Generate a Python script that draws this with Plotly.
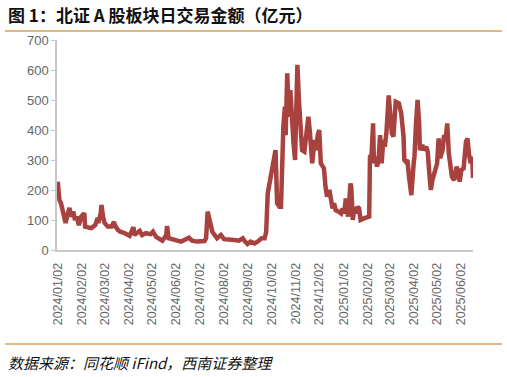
import plotly.graph_objects as go

dates = [
    "2024-01-02","2024-01-04","2024-01-06","2024-01-08","2024-01-12","2024-01-15","2024-01-17","2024-01-19",
    "2024-01-22","2024-01-24","2024-01-26","2024-01-29","2024-01-30","2024-02-01","2024-02-05","2024-02-06",
    "2024-02-14","2024-02-19","2024-02-22","2024-02-23","2024-02-26","2024-02-27","2024-02-29","2024-03-02",
    "2024-03-06","2024-03-11","2024-03-14","2024-03-15","2024-03-19","2024-03-22","2024-03-28","2024-04-03",
    "2024-04-08","2024-04-09","2024-04-12","2024-04-16","2024-04-19","2024-04-24","2024-04-30","2024-05-03",
    "2024-05-07","2024-05-11","2024-05-15",
    "2024-05-20","2024-05-21","2024-05-23","2024-05-28","2024-06-04","2024-06-08","2024-06-14","2024-06-18",
    "2024-06-22","2024-06-28","2024-07-08","2024-07-10","2024-07-12","2024-07-15","2024-07-18","2024-07-24",
    "2024-07-29","2024-08-02","2024-08-08","2024-08-15","2024-08-21","2024-08-26","2024-08-29","2024-09-01",
    "2024-09-05","2024-09-10","2024-09-14","2024-09-19","2024-09-23","2024-09-25",
    "2024-09-27","2024-09-29","2024-10-01","2024-10-03","2024-10-05","2024-10-07","2024-10-09","2024-10-12",
    "2024-10-14","2024-10-15","2024-10-17","2024-10-19","2024-10-20","2024-10-22","2024-10-24","2024-10-26",
    "2024-10-28","2024-10-30","2024-11-01","2024-11-03","2024-11-04","2024-11-06","2024-11-08","2024-11-10",
    "2024-11-13","2024-11-15","2024-11-16","2024-11-18","2024-11-20","2024-11-22","2024-11-23","2024-11-26",
    "2024-11-28","2024-11-30","2024-12-02","2024-12-04","2024-12-06","2024-12-08","2024-12-10","2024-12-12",
    "2024-12-15","2024-12-17","2024-12-19",
    "2024-12-21","2024-12-23","2024-12-27","2024-12-30","2025-01-01","2025-01-03","2025-01-05","2025-01-06",
    "2025-01-08","2025-01-11","2025-01-12","2025-01-14","2025-01-16","2025-01-18","2025-01-20","2025-01-22",
    "2025-01-24","2025-01-29","2025-02-02","2025-02-04","2025-02-05","2025-02-07","2025-02-09","2025-02-10",
    "2025-02-12","2025-02-14","2025-02-16","2025-02-18","2025-02-20","2025-02-22","2025-02-24","2025-02-26",
    "2025-03-01","2025-03-05","2025-03-07","2025-03-10","2025-03-14","2025-03-17","2025-03-20","2025-03-21",
    "2025-03-23","2025-03-25","2025-03-27","2025-03-30","2025-04-02","2025-04-03","2025-04-05","2025-04-07",
    "2025-04-09","2025-04-10","2025-04-13","2025-04-15","2025-04-18","2025-04-20","2025-04-22","2025-04-24",
    "2025-04-26","2025-04-28","2025-05-02","2025-05-04","2025-05-06","2025-05-09","2025-05-11","2025-05-13",
    "2025-05-15","2025-05-17","2025-05-19","2025-05-21","2025-05-24","2025-05-27","2025-05-29","2025-05-31",
    "2025-06-02","2025-06-05","2025-06-08","2025-06-10","2025-06-12","2025-06-14","2025-06-16","2025-06-17",
]

turnover = [
    228,167,157,128,90,123,140,111,
    128,100,111,83,90,111,123,78,
    73,83,107,90,123,150,111,90,
    78,78,94,83,67,61,56,47,
    76,50,56,64,50,56,53,61,
    44,39,31,
    50,80,39,36,33,28,36,41,
    31,28,30,39,128,100,61,39,
    50,36,33,33,31,39,28,20,
    28,22,28,39,39,60,
    189,222,255,283,311,333,156,144,
    144,289,411,478,383,589,444,533,
    411,356,300,500,617,500,411,333,
    328,378,372,444,394,311,289,367,
    333,383,400,289,278,272,211,178,
    200,156,139,
    156,133,128,122,139,122,172,156,
    111,222,211,100,144,122,144,139,
    100,106,109,111,311,317,422,289,
    311,278,300,383,289,367,344,389,
    515,389,378,494,489,456,378,300,
    294,300,244,183,289,311,422,500,
    422,333,350,333,344,328,256,200,
    233,256,289,372,306,333,383,372,
    422,322,278,244,233,278,256,228,
    267,272,361,372,317,289,311,240,
]

tick_vals = ["2024-01-02","2024-02-02","2024-03-02","2024-04-02","2024-05-02","2024-06-02",
             "2024-07-02","2024-08-02","2024-09-02","2024-10-02","2024-11-02","2024-12-02",
             "2025-01-02","2025-02-02","2025-03-02","2025-04-02","2025-05-02","2025-06-02"]
tick_text = [d.replace("-", "/") for d in tick_vals]
y_ticks = [0, 100, 200, 300, 400, 500, 600, 700]

title_text = "图 1：北证 A 股板块日交易金额（亿元）"
source_text = "数据来源：同花顺 iFind，西南证券整理"

W, H = 507, 377
L, R, T, B = 57, 34, 40, 127
pw, ph = W - L - R, H - T - B

def px_x(x):
    return (x - L) / pw

def px_y(y):
    return (H - B - y) / ph

fig = go.Figure()
fig.add_trace(go.Scatter(
    x=dates, y=turnover, mode="lines",
    line=dict(color="#A8423F", width=4.5),
    hoverinfo="skip", showlegend=False,
))

grey = "#666666"
fig.update_layout(
    width=W, height=H,
    margin=dict(l=L, r=R, t=T, b=B, pad=0),
    paper_bgcolor="white", plot_bgcolor="white",
    showlegend=False,
    xaxis=dict(
        type="date",
        range=["2024-01-01", "2025-06-17"],
        tickvals=tick_vals, ticktext=tick_text,
        tickangle=-90,
        tickfont=dict(family="Liberation Sans, Arial", size=12.5, color=grey),
        showgrid=False, zeroline=False,
        showline=True, linecolor="#C8C8C8", linewidth=1.5,
        ticks="", ticklabelstandoff=6,
    ),
    yaxis=dict(
        range=[0, 700],
        tickvals=y_ticks,
        tickfont=dict(family="Liberation Sans, Arial", size=13, color=grey),
        showgrid=False, zeroline=False,
        showline=True, linecolor="#C8C8C8", linewidth=1.5,
        ticks="outside", ticklen=4, tickcolor="#C8C8C8", tickwidth=1,
    ),
    shapes=[
        dict(type="line", xref="paper", yref="paper",
             x0=px_x(5), x1=px_x(502), y0=px_y(31), y1=px_y(31),
             line=dict(color="#D9A24F", width=1.5)),
        dict(type="line", xref="paper", yref="paper",
             x0=px_x(5), x1=px_x(502), y0=px_y(344), y1=px_y(344),
             line=dict(color="#D9A24F", width=1.5)),
    ],
    annotations=[
        dict(text="<b>" + title_text + "</b>", xref="paper", yref="paper",
             x=px_x(6), y=px_y(15), xanchor="left", yanchor="middle",
             showarrow=False,
             font=dict(family="Noto Sans CJK SC", size=17, color="#111111")),
        dict(text=source_text, xref="paper", yref="paper",
             x=px_x(6), y=px_y(362), xanchor="left", yanchor="middle",
             showarrow=False,
             font=dict(family="Noto Sans CJK SC", size=15, color="#111111", style="italic")),
    ],
)

fig.write_html("out.html")
